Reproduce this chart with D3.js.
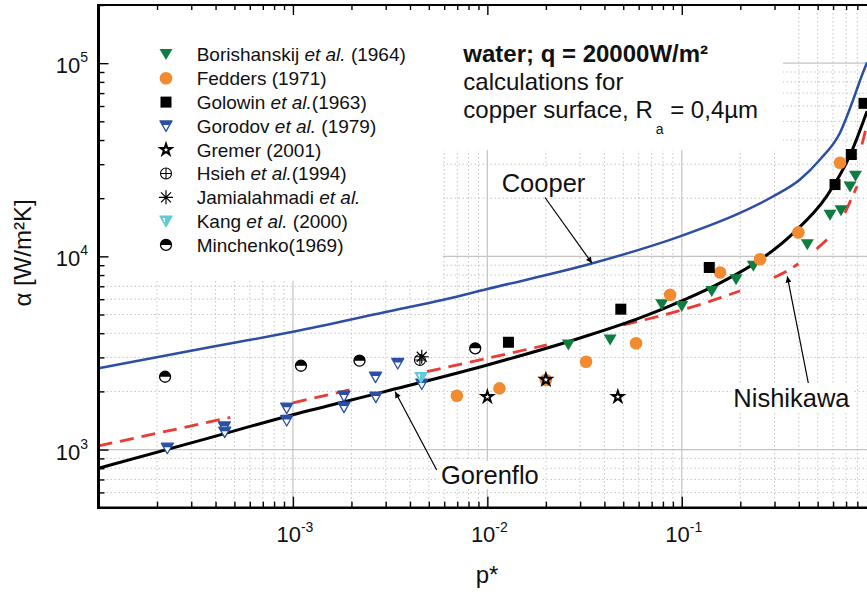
<!DOCTYPE html>
<html>
<head>
<meta charset="utf-8">
<script src="https://cdn.jsdelivr.net/npm/d3@7"></script>
<style>
  body { margin: 0; background: #fff; }
  svg { display: block; font-family: "Liberation Sans", Arial, Helvetica, sans-serif; }
</style>
</head>
<body>
<svg id="chart" width="867" height="594"></svg>
<script>
// ---- data (p* = reduced pressure, alpha in W/m2K) ----
const borP = [0.0261, 0.0428, 0.0789, 0.100, 0.1426, 0.1902, 0.2334, 0.4422, 0.5787, 0.6592, 0.7332, 0.7826];
const borA = [3478, 3691, 5609, 5495, 6573, 7559, 8884, 11490, 16340, 17240, 22840, 25980];

const fedP = [0.00697, 0.01154, 0.0200, 0.0322, 0.0582, 0.0871, 0.1574, 0.2527, 0.3977, 0.6515];
const fedA = [1898, 2073, 2289, 2849, 3549, 6319, 8248, 9661, 13300, 30500];

const golP = [0.01284, 0.04858, 0.1385, 0.6141, 0.7447, 0.8656];
const golA = [3592, 5328, 8758, 23530, 33670, 61930];

const gorP = [2.26e-4, 4.44e-4, 4.46e-4, 9.29e-4, 9.29e-4, 1.83e-3, 1.83e-3, 2.66e-3, 2.67e-3, 3.46e-3, 4.60e-3];
const gorA = [1016, 1310, 1230, 1638, 1414, 1891, 1658, 2372, 1868, 2788, 2183];

const greP = [0.0100, 0.0200, 0.0469];
const greA = [1875, 2300, 1875];

const hsiP = [4.5e-3];
const hsiA = [2907];

const jamP = [4.6e-3];
const jamA = [3023];

const kangP = [4.56e-3];
const kangA = [2358];

const minP = [2.2e-4, 1.10e-3, 2.2e-3, 8.66e-3];
const minA = [2381, 2715, 2883, 3343];

// correlations
const gorenP = [1e-4, 3.34e-4, 1e-3, 3e-3, 1e-2, 0.030, 0.061, 0.1, 0.157, 0.253, 0.375, 0.557, 0.733, 0.897];
const gorenA = [800, 1115, 1515, 2000, 2740, 3780, 4800, 5880, 7270, 9600, 13200, 20500, 33300, 56300];

const coopP = [1e-4, 3.34e-4, 1e-3, 3e-3, 5.95e-3, 1e-2, 0.0351, 0.098, 0.1994, 0.2958, 0.4057, 0.5143, 0.6515, 0.7626, 0.842, 0.897];
const coopA = [2632, 3316, 4070, 5152, 5955, 6773, 9230, 12690, 16780, 20460, 24970, 31720, 43630, 64960, 85830, 100700];

// null = break in the Nishikawa line
const nishP = [1e-4, 4.76e-4, null, 1.0e-3, 2.01e-3, null, 4.89e-3, 0.0202, null, 0.0501, 0.1147, 0.1994, null,
               0.298, 0.344, 0.398, null, 0.494, 0.563, null, 0.691, 0.797, null, 0.845, 0.897];
const nishA = [1044, 1466, null, 1745, 2048, null, 2528, 3477, null, 4416, 5495, 6628, null,
               7772, 8348, 9155, null, 10910, 12300, null, 16780, 23050, null, 37940, 48200];

const xMajor = [1e-3, 1e-2, 1e-1];
const xExp = ['-3', '-2', '-1'];
const yMajor = [1e3, 1e4, 1e5];
const yExp = ['3', '4', '5'];

const legendNames = [
  [['Borishanskij ', 0], ['et al.', 1], [' (1964)', 0]],
  [['Fedders (1971)', 0]],
  [['Golowin ', 0], ['et al.', 1], ['(1963)', 0]],
  [['Gorodov ', 0], ['et al.', 1], [' (1979)', 0]],
  [['Gremer (2001)', 0]],
  [['Hsieh ', 0], ['et al.', 1], ['(1994)', 0]],
  [['Jamialahmadi ', 0], ['et al.', 1]],
  [['Kang ', 0], ['et al.', 1], [' (2000)', 0]],
  [['Minchenko(1969)', 0]]
];
const legendTypes = ['bor', 'fed', 'gol', 'gor', 'gre', 'hsi', 'jam', 'kang', 'min'];

// ---- layout ----
const W = 867, H = 594;
const L = 98.5, T = 5, B = 507.7, R = 876.2;

const GREEN = '#0f7d3f', ORANGE = '#f28a30', BLUE = '#2a4fa3', COOPER = '#2c4ea5',
      RED = '#ec3a35', CYAN = '#5fcad8', GRID = '#c4c4c4';

const x = d3.scaleLog().domain([1e-4, 1]).range([L, R]);
const y = d3.scaleLog().domain([500, 2e5]).range([B, T]);

const svg = d3.select('#chart');
const isMajor = v => Math.abs(Math.log10(v) - Math.round(Math.log10(v))) < 1e-9;
const xMinor = x.ticks().filter(v => !isMajor(v));
const yMinor = y.ticks().filter(v => !isMajor(v) && v > 500);

// ---- grid ----
const grid = svg.append('g');
grid.selectAll('.vmin').data(xMinor).join('line')
  .attr('x1', d => x(d)).attr('x2', d => x(d)).attr('y1', T).attr('y2', B)
  .attr('stroke', GRID).attr('stroke-width', 1).attr('stroke-dasharray', '1.5,2.5');
grid.selectAll('.hmin').data(yMinor).join('line')
  .attr('y1', d => y(d)).attr('y2', d => y(d)).attr('x1', L).attr('x2', W)
  .attr('stroke', GRID).attr('stroke-width', 1).attr('stroke-dasharray', '1.5,2.5');
grid.selectAll('.vmaj').data(xMajor).join('line')
  .attr('x1', d => x(d)).attr('x2', d => x(d)).attr('y1', T).attr('y2', B)
  .attr('stroke', GRID).attr('stroke-width', 1.2);
grid.selectAll('.hmaj').data(yMajor).join('line')
  .attr('y1', d => y(d)).attr('y2', d => y(d)).attr('x1', L).attr('x2', W)
  .attr('stroke', GRID).attr('stroke-width', 1.2);

// white boxes behind legend and note
grid.append('rect').attr('x', L).attr('y', T).attr('width', 443 - L).attr('height', 281 - T).attr('fill', '#fff');
grid.append('rect').attr('x', 443).attr('y', T).attr('width', 783 - 443).attr('height', 150 - T).attr('fill', '#fff');
const labelBg = svg.append('g');

// ---- curves ----
svg.append('clipPath').attr('id', 'plotclip').append('rect')
  .attr('x', L).attr('y', T).attr('width', R - L).attr('height', B - T);
const curves = svg.append('g').attr('clip-path', 'url(#plotclip)');
const line = d3.line().defined(d => d[1] != null).x(d => x(d[0])).y(d => y(d[1])).curve(d3.curveMonotoneX);
const zip = (a, b) => a.map((v, i) => [v, b[i]]);

curves.append('path').attr('d', line(zip(coopP, coopA)))
  .attr('fill', 'none').attr('stroke', COOPER).attr('stroke-width', 2.5);
curves.append('path').attr('d', line(zip(nishP, nishA)))
  .attr('fill', 'none').attr('stroke', RED).attr('stroke-width', 2.8).attr('stroke-dasharray', '14,8');
curves.append('path').attr('d', line(zip(gorenP, gorenA)))
  .attr('fill', 'none').attr('stroke', '#000').attr('stroke-width', 3);

// ---- markers ----
function drawMarker(g, type, cx, cy) {
  const m = g.append('g').attr('transform', `translate(${cx},${cy})`);
  switch (type) {
    case 'bor':
      m.append('path').attr('d', 'M-6.5,-5.5L6.5,-5.5L0,5.5Z').attr('fill', GREEN);
      break;
    case 'fed':
      m.append('circle').attr('r', 6.3).attr('fill', ORANGE);
      break;
    case 'gol':
      m.append('rect').attr('x', -5.5).attr('y', -5.5).attr('width', 11).attr('height', 11).attr('fill', '#000');
      break;
    case 'gor':
      m.append('path').attr('d', 'M-6,-5L6,-5L0,5.5Z').attr('fill', '#fff')
        .attr('stroke', BLUE).attr('stroke-width', 1.3).attr('stroke-linejoin', 'round');
      m.append('path').attr('d', 'M-6,-5L6,-5L3.7,-1L-3.7,-1Z').attr('fill', BLUE);
      break;
    case 'gre':
      m.append('path').attr('d', d3.symbol(d3.symbolStar, 38)()).attr('fill', '#fff')
        .attr('stroke', '#000').attr('stroke-width', 2).attr('stroke-linejoin', 'miter');
      break;
    case 'hsi':
      m.append('circle').attr('r', 5.5).attr('fill', 'none').attr('stroke', '#000').attr('stroke-width', 1.1);
      m.append('path').attr('d', 'M-5.5,0H5.5M0,-5.5V5.5').attr('stroke', '#000').attr('stroke-width', 1.1);
      break;
    case 'jam':
      m.append('path').attr('d', 'M-7,0H7M0,-7V7M-5,-5L5,5M-5,5L5,-5').attr('stroke', '#000').attr('stroke-width', 1.2);
      break;
    case 'kang':
      m.append('path').attr('d', 'M-6,-5L6,-5L0,5.5Z').attr('fill', CYAN)
        .attr('stroke', CYAN).attr('stroke-width', 1.2).attr('stroke-linejoin', 'round');
      m.append('path').attr('d', 'M-3.2,-3.2L-1,-3.2L-1,2Z').attr('fill', '#fff');
      break;
    case 'min':
      m.append('circle').attr('r', 5.5).attr('fill', '#fff').attr('stroke', '#000').attr('stroke-width', 1.3);
      m.append('path').attr('d', 'M-5.5,0A5.5,5.5 0 0 1 5.5,0Z').attr('fill', '#000');
      break;
  }
}

const series = [
  ['bor', borP, borA], ['fed', fedP, fedA], ['gol', golP, golA], ['gor', gorP, gorA],
  ['gre', greP, greA], ['hsi', hsiP, hsiA], ['jam', jamP, jamA], ['kang', kangP, kangA],
  ['min', minP, minA]
];
const marks = svg.append('g');
series.forEach(([type, ps, as]) => {
  ps.forEach((p, i) => drawMarker(marks, type, x(p), y(as[i])));
});

// ---- legend ----
const legend = svg.append('g');
legendNames.forEach((parts, i) => {
  const cy = 54.5 + i * 23.8;
  drawMarker(legend, legendTypes[i], 166, cy);
  const t = legend.append('text').attr('x', 196.7).attr('y', cy + 6.8)
    .attr('font-size', 19).attr('fill', '#111');
  parts.forEach(([s, it]) => t.append('tspan').attr('font-style', it ? 'italic' : null).text(s));
});

// ---- note ----
const note = svg.append('g').attr('font-size', 24).attr('fill', '#111');
note.append('text').attr('x', 463.3).attr('y', 61.7).attr('font-weight', 'bold').text('water; q = 20000W/m²');
note.append('text').attr('x', 463.3).attr('y', 90).text('calculations for');
const t3 = note.append('text').attr('x', 463.3).attr('y', 118.3);
t3.append('tspan').text('copper surface, R');
t3.append('tspan').attr('dx', 3).attr('dy', 16).attr('font-size', 14).text('a');
t3.append('tspan').attr('dy', -16).text(' = 0,4µm');

// ---- annotations ----
svg.append('defs').append('marker').attr('id', 'arrow')
  .attr('viewBox', '0 0 10 10').attr('refX', 10).attr('refY', 5)
  .attr('markerWidth', 10).attr('markerHeight', 6).attr('markerUnits', 'userSpaceOnUse')
  .attr('orient', 'auto')
  .append('path').attr('d', 'M0,0L10,5L0,10Z').attr('fill', '#000');

const annotations = [
  { text: 'Cooper', tip: [0.0345, 9230], tail: [545, 197.5], at: [501.7, 191.7] },
  { text: 'Gorenflo', tip: [3.357e-3, 1990], tail: [436.7, 470], at: [441, 484] },
  { text: 'Nishikawa', tip: [0.349, 7866], tail: [808.3, 383], at: [733.3, 406.7] }
];
const ann = svg.append('g');
annotations.forEach(a => {
  const t = ann.append('text').attr('x', a.at[0]).attr('y', a.at[1])
    .attr('font-size', 25.5).attr('fill', '#111').text(a.text);
  const bb = t.node().getBBox();
  labelBg.append('rect').attr('x', bb.x - 2).attr('y', bb.y).attr('width', bb.width + 4).attr('height', bb.height)
    .attr('fill', '#fff');
  ann.append('line').attr('x1', a.tail[0]).attr('y1', a.tail[1])
    .attr('x2', x(a.tip[0])).attr('y2', y(a.tip[1]))
    .attr('stroke', '#000').attr('stroke-width', 1.2).attr('marker-end', 'url(#arrow)');
});

// ---- axes ----
function axisG(gen, transform) {
  const g = svg.append('g').attr('transform', transform).call(gen);
  g.select('.domain').remove();
  g.selectAll('.tick line').attr('stroke', '#000').attr('stroke-width', 1.4);
  return g;
}
axisG(d3.axisBottom(x).tickValues(xMajor).tickSize(-11).tickFormat(''), `translate(0,${B})`);
axisG(d3.axisBottom(x).tickValues(xMinor).tickSize(-6).tickFormat(''), `translate(0,${B})`);
axisG(d3.axisTop(x).tickValues(xMajor).tickSize(-10).tickFormat(''), `translate(0,${T})`);
axisG(d3.axisTop(x).tickValues(xMinor).tickSize(-5).tickFormat(''), `translate(0,${T})`);
axisG(d3.axisLeft(y).tickValues(yMajor).tickSize(-10).tickFormat(''), `translate(${L},0)`);
axisG(d3.axisLeft(y).tickValues(yMinor).tickSize(-6).tickFormat(''), `translate(${L},0)`);

svg.append('line').attr('x1', L).attr('x2', W).attr('y1', T).attr('y2', T).attr('stroke', '#000').attr('stroke-width', 2.2);
svg.append('line').attr('x1', L).attr('x2', W).attr('y1', B).attr('y2', B).attr('stroke', '#000').attr('stroke-width', 2.6);
svg.append('line').attr('x1', L).attr('x2', L).attr('y1', T - 1).attr('y2', B + 1.3).attr('stroke', '#000').attr('stroke-width', 3);

// tick labels
const labels = svg.append('g').attr('fill', '#111');
xMajor.forEach((v, i) => {
  const t = labels.append('text').attr('x', x(v) + 2).attr('y', 542.3).attr('text-anchor', 'middle').attr('font-size', 22);
  t.append('tspan').text('10');
  t.append('tspan').attr('dy', -10.5).attr('font-size', 14).text(xExp[i]);
});
yMajor.forEach((v, i) => {
  const t = labels.append('text').attr('x', 88).attr('y', y(v) + 10).attr('text-anchor', 'end').attr('font-size', 22);
  t.append('tspan').text('10');
  t.append('tspan').attr('dy', -11).attr('font-size', 14).text(yExp[i]);
});

// axis titles
labels.append('text').attr('x', 487).attr('y', 583).attr('text-anchor', 'middle').attr('font-size', 24).text('p*');
labels.append('text').attr('transform', 'translate(31,253) rotate(-90)').attr('text-anchor', 'middle')
  .attr('font-size', 24).text('α [W/m²K]');
</script>
</body>
</html>
